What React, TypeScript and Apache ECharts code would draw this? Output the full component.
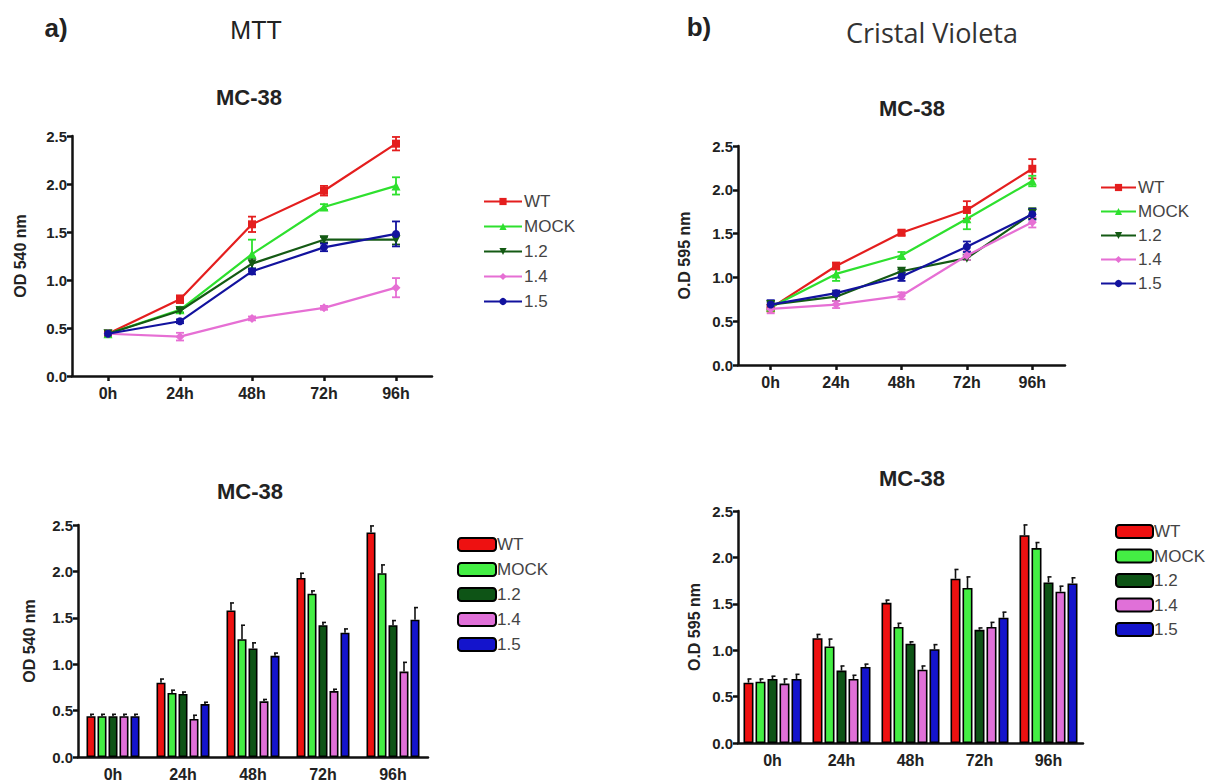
import React, { useEffect, useRef } from "react";
import * as echarts from "echarts";

// ---------- data ----------
const hours = ["0h", "24h", "48h", "72h", "96h"];
const groups = ["WT", "MOCK", "1.2", "1.4", "1.5"];
const yTicks = [0, 0.5, 1.0, 1.5, 2.0, 2.5];

// MTT (OD 540 nm)
const mttWT = [0.44, 0.8, 1.58, 1.93, 2.42];
const mttMOCK = [0.44, 0.69, 1.27, 1.76, 1.98];
const mtt12 = [0.44, 0.68, 1.17, 1.42, 1.42];
const mtt14 = [0.44, 0.41, 0.6, 0.71, 0.92];
const mtt15 = [0.44, 0.57, 1.09, 1.34, 1.48];
const mttWTErr = [0.02, 0.04, 0.08, 0.05, 0.07];
const mttMOCKErr = [0.02, 0.03, 0.15, 0.03, 0.09];
const mtt12Err = [0.02, 0.02, 0.06, 0.03, 0.05];
const mtt14Err = [0.02, 0.04, 0.02, 0.02, 0.1];
const mtt15Err = [0.02, 0.02, 0.03, 0.04, 0.13];

// Cristal Violeta (O.D 595 nm)
const cvWT = [0.65, 1.13, 1.51, 1.77, 2.24];
const cvMOCK = [0.66, 1.04, 1.25, 1.67, 2.1];
const cv12 = [0.69, 0.78, 1.07, 1.22, 1.73];
const cv14 = [0.64, 0.69, 0.79, 1.25, 1.63];
const cv15 = [0.69, 0.82, 1.01, 1.35, 1.72];
const cvWTErr = [0.04, 0.04, 0.03, 0.1, 0.11];
const cvMOCKErr = [0.03, 0.08, 0.04, 0.12, 0.06];
const cv12Err = [0.03, 0.05, 0.02, 0.02, 0.06];
const cv14Err = [0.05, 0.04, 0.04, 0.05, 0.06];
const cv15Err = [0.05, 0.03, 0.05, 0.06, 0.06];

const mttMeans = [mttWT, mttMOCK, mtt12, mtt14, mtt15];
const mttErrs = [mttWTErr, mttMOCKErr, mtt12Err, mtt14Err, mtt15Err];
const cvMeans = [cvWT, cvMOCK, cv12, cv14, cv15];
const cvErrs = [cvWTErr, cvMOCKErr, cv12Err, cv14Err, cv15Err];

// ---------- styles ----------
const FONT = "'Liberation Sans', Arial, sans-serif";
const lineColors = ["#e41e1e", "#2ee02e", "#145a14", "#e66fd4", "#12129e"];
const barColors = ["#ee1111", "#44ee44", "#0e5416", "#e070d8", "#1414cc"];
const symbols = ["rect", "triangle", "triangle", "diamond", "circle"];
const symbolRot = [0, 0, 180, 0, 0];
const symbolSizes = [8, 9, 9, 9, 8];

type Box = { left: number; top: number; width: number; height: number };

function axes(box: Box, yName: string, nameGap: number, xTicks: boolean) {
  return {
    grid: { left: box.left, top: box.top, width: box.width, height: box.height, containLabel: false },
    xAxis: {
      type: "category",
      data: hours,
      boundaryGap: true,
      axisLine: { show: true, lineStyle: { color: "#111", width: 2.5 } },
      axisTick: { show: xTicks, alignWithLabel: true, length: 5, lineStyle: { color: "#111", width: 2.5 } },
      axisLabel: { fontFamily: FONT, fontWeight: "bold", fontSize: 16, color: "#222", margin: 9 },
      splitLine: { show: false },
    },
    yAxis: {
      type: "value",
      min: yTicks[0],
      max: yTicks[yTicks.length - 1],
      interval: 0.5,
      axisLine: { show: true, lineStyle: { color: "#111", width: 2.5 } },
      axisTick: { show: true, length: 5, lineStyle: { color: "#111", width: 2.5 } },
      axisLabel: {
        fontFamily: FONT,
        fontWeight: "bold",
        fontSize: 15,
        color: "#222",
        margin: 5,
        formatter: (v: number) => v.toFixed(1),
      },
      splitLine: { show: false },
      name: yName,
      nameLocation: "middle",
      nameGap,
      nameTextStyle: { fontFamily: FONT, fontWeight: "bold", fontSize: 16, color: "#222" },
    },
  };
}

function titleText(text: string, x: number, y: number, size: number, weight: string, family = FONT, color = "#222") {
  return {
    type: "text",
    x,
    y,
    style: { text, fontFamily: family, fontSize: size, fontWeight: weight, fill: color, align: "center", verticalAlign: "middle" },
  };
}

function lineOption(
  box: Box,
  yName: string,
  nameGap: number,
  means: number[][],
  errs: number[][],
  legendPos: { left: number; top: number; gap: number; w: number },
  graphics: any[]
) {
  const series: any[] = [];
  groups.forEach((g, k) => {
    const color = lineColors[k];
    series.push({
      type: "custom",
      name: g + " err",
      data: means[k].map((m, i) => [i, m, errs[k][i]]),
      encode: { x: 0, y: 1 },
      z: 2,
      silent: true,
      renderItem: (_p: any, api: any) => {
        const i = api.value(0);
        const m = api.value(1);
        const e = api.value(2);
        const t = api.coord([i, m + e]);
        const b = api.coord([i, m - e]);
        const st = { stroke: color, lineWidth: 1.8 };
        return {
          type: "group",
          children: [
            { type: "line", shape: { x1: t[0], y1: t[1], x2: b[0], y2: b[1] }, style: st },
            { type: "line", shape: { x1: t[0] - 4, y1: t[1], x2: t[0] + 4, y2: t[1] }, style: st },
            { type: "line", shape: { x1: b[0] - 4, y1: b[1], x2: b[0] + 4, y2: b[1] }, style: st },
          ],
        };
      },
    });
    series.push({
      type: "line",
      name: g,
      data: means[k],
      symbol: symbols[k],
      symbolSize: symbolSizes[k],
      symbolRotate: symbolRot[k],
      z: 3 + k,
      lineStyle: { color, width: 2.2 },
      itemStyle: { color },
    });
  });
  return {
    animation: false,
    backgroundColor: "transparent",
    ...axes(box, yName, nameGap, true),
    legend: {
      data: groups,
      orient: "vertical",
      left: legendPos.left,
      top: legendPos.top,
      itemGap: legendPos.gap,
      itemWidth: legendPos.w,
      itemHeight: 9,
      selectedMode: false,
      textStyle: { fontFamily: FONT, fontSize: 17, color: "#444", padding: [0, 0, 0, -3] },
    },
    graphic: graphics,
    series,
  };
}

function barOption(
  box: Box,
  yName: string,
  nameGap: number,
  means: number[][],
  errs: number[][],
  barW: number,
  gapPx: number,
  legendPos: { left: number; top: number; gap: number; w: number },
  graphics: any[]
) {
  const n = groups.length;
  const total = n * barW + (n - 1) * gapPx;
  const series: any[] = [];
  groups.forEach((g, k) => {
    series.push({
      type: "bar",
      name: g,
      data: means[k],
      barWidth: barW,
      barGap: (gapPx / barW) * 100 + "%",
      itemStyle: { color: barColors[k], borderColor: "#000", borderWidth: 1.6 },
      z: 2,
    });
  });
  groups.forEach((g, k) => {
    const off = -total / 2 + barW / 2 + k * (barW + gapPx);
    series.push({
      type: "custom",
      name: g + " err",
      data: means[k].map((m, i) => [i, m, errs[k][i]]),
      encode: { x: 0, y: 1 },
      z: 3,
      silent: true,
      renderItem: (_p: any, api: any) => {
        const i = api.value(0);
        const m = api.value(1);
        const e = api.value(2);
        const t = api.coord([i, m + e]);
        const b = api.coord([i, m]);
        const x = t[0] + off;
        const st = { stroke: "#111", lineWidth: 1.6 };
        return {
          type: "group",
          children: [
            { type: "line", shape: { x1: x, y1: t[1], x2: x, y2: b[1] }, style: st },
            { type: "line", shape: { x1: x - 1, y1: t[1], x2: x + 3, y2: t[1] }, style: st },
          ],
        };
      },
    });
  });
  return {
    animation: false,
    backgroundColor: "transparent",
    ...axes(box, yName, nameGap, false),
    legend: {
      data: groups,
      orient: "vertical",
      left: legendPos.left,
      top: legendPos.top,
      itemGap: legendPos.gap,
      itemWidth: legendPos.w,
      itemHeight: 13,
      icon: "roundRect",
      selectedMode: false,
      itemStyle: { borderColor: "#000", borderWidth: 2 },
      textStyle: { fontFamily: FONT, fontSize: 17, color: "#444", padding: [0, 0, 0, -4] },
    },
    graphic: graphics,
    series,
  };
}

function Panel({ option }: { option: any }) {
  const ref = useRef<HTMLDivElement>(null);
  useEffect(() => {
    if (!ref.current) return;
    const chart = echarts.init(ref.current, undefined, { renderer: "svg" });
    chart.setOption(option);
    return () => chart.dispose();
  }, [option]);
  return <div ref={ref} style={{ position: "absolute", left: 0, top: 0, width: 1220, height: 783 }} />;
}

const optA = lineOption(
  { left: 72, top: 136, width: 360, height: 240 },
  "OD 540 nm",
  44,
  mttMeans,
  mttErrs,
  { left: 478, top: 188, gap: 8, w: 38 },
  [
    titleText("a)", 56, 28, 26, "bold"),
    titleText("MTT", 256, 30, 25, "normal"),
    titleText("MC-38", 249, 97, 22, "bold"),
  ]
);

const optB = lineOption(
  { left: 738, top: 146, width: 327, height: 219 },
  "O.D 595 nm",
  46,
  cvMeans,
  cvErrs,
  { left: 1095, top: 174, gap: 7, w: 35 },
  [
    titleText("b)", 699, 27, 26, "bold"),
    titleText("Cristal Violeta", 932, 32, 27, "normal", "'Open Sans', sans-serif", "#333"),
    titleText("MC-38", 912, 108, 22, "bold"),
  ]
);

const optC = barOption(
  { left: 78, top: 525, width: 350, height: 232 },
  "OD 540 nm",
  41,
  mttMeans,
  mttErrs,
  9,
  2,
  { left: 452, top: 531, gap: 8, w: 38 },
  [titleText("MC-38", 250, 491, 22, "bold")]
);

const optD = barOption(
  { left: 738, top: 511, width: 345, height: 232 },
  "O.D 595 nm",
  36,
  cvMeans,
  cvErrs,
  10,
  2,
  { left: 1110, top: 518, gap: 7.5, w: 37 },
  [titleText("MC-38", 912, 478, 22, "bold")]
);

export default function App() {
  return (
    <div style={{ position: "absolute", left: 0, top: 0, width: 1220, height: 783, background: "#fff" }}>
      <Panel option={optA} />
      <Panel option={optB} />
      <Panel option={optC} />
      <Panel option={optD} />
    </div>
  );
}
